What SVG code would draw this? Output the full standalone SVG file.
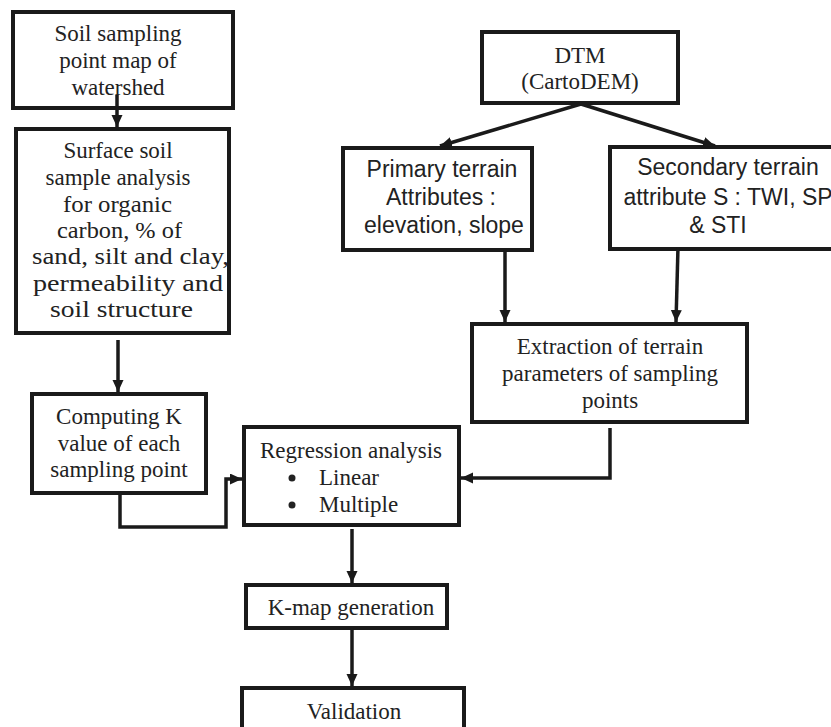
<svg xmlns="http://www.w3.org/2000/svg" width="831" height="727" viewBox="0 0 831 727">
<style>
.box{fill:#fff;stroke:#1a1a1a;stroke-width:4}
.t{font-family:"Liberation Serif","Times New Roman",serif;font-size:23px;fill:#222;text-anchor:middle}
.s{text-anchor:start}
.a{font-family:"Liberation Sans",Arial,sans-serif;font-size:23px;fill:#222;text-anchor:middle}
.c{fill:none;stroke:#1a1a1a;stroke-width:3.5}
</style>
<defs>
<marker id="ah" markerUnits="userSpaceOnUse" markerWidth="13" markerHeight="12" refX="12" refY="5.5" orient="auto">
<path d="M0,0 L12,5.5 L0,11 z" fill="#1a1a1a"/>
</marker>
</defs>
<rect width="831" height="727" fill="#fff"/>
<g id="n-soil-map">
<rect class="box" x="13" y="12" width="220" height="96"/>
<text class="t" x="118" y="41">Soil sampling</text>
<text class="t" x="118" y="68">point map of</text>
<text class="t" x="118" y="95">watershed</text>
</g>
<g id="n-surface">
<rect class="box" x="16" y="129" width="213" height="204"/>
<text class="t" x="118" y="158">Surface soil</text>
<text class="t" x="118" y="185">sample analysis</text>
<text class="t s" x="63" y="212" textLength="109" lengthAdjust="spacingAndGlyphs">for organic</text>
<text class="t s" x="57" y="238" textLength="125" lengthAdjust="spacingAndGlyphs">carbon, % of</text>
<text class="t s" x="32" y="264" textLength="197" lengthAdjust="spacingAndGlyphs">sand, silt and clay,</text>
<text class="t s" x="33" y="291" textLength="190" lengthAdjust="spacingAndGlyphs">permeability and</text>
<text class="t s" x="50" y="317" textLength="143" lengthAdjust="spacingAndGlyphs">soil structure</text>
</g>
<g id="n-computing">
<rect class="box" x="32" y="394" width="174" height="99"/>
<text class="t" x="119" y="424">Computing K</text>
<text class="t" x="119" y="451">value of each</text>
<text class="t" x="119" y="477">sampling point</text>
</g>
<g id="n-dtm">
<rect class="box" x="482" y="32" width="196" height="71"/>
<text class="t" x="580" y="63">DTM</text>
<text class="t" x="580" y="89">(CartoDEM)</text>
</g>
<g id="n-primary">
<rect class="box" x="343" y="148" width="189" height="102"/>
<text class="a" x="442" y="177">Primary terrain</text>
<text class="a" x="441" y="205">Attributes :</text>
<text class="a" x="444" y="233">elevation, slope</text>
</g>
<g id="n-secondary">
<rect class="box" x="610" y="147" width="240" height="102"/>
<text class="a" x="728" y="175">Secondary terrain</text>
<text class="a" x="728" y="205">attribute S : TWI, SP</text>
<text class="a" x="718" y="233">&amp; STI</text>
</g>
<g id="n-extraction">
<rect class="box" x="472" y="324" width="275" height="98"/>
<text class="t" x="610" y="354">Extraction of terrain</text>
<text class="t" x="610" y="381">parameters of sampling</text>
<text class="t" x="610" y="408">points</text>
</g>
<g id="n-regression">
<rect class="box" x="244" y="427" width="215" height="98"/>
<text class="t" x="351" y="458">Regression analysis</text>
<circle cx="292" cy="478" r="3.5" fill="#222"/>
<text class="t s" x="319" y="485">Linear</text>
<circle cx="292" cy="505" r="3.5" fill="#222"/>
<text class="t s" x="319" y="512">Multiple</text>
</g>
<g id="n-kmap">
<rect class="box" x="246" y="585" width="201" height="43"/>
<text class="t" x="351" y="615">K-map generation</text>
</g>
<g id="n-validation">
<rect class="box" x="242" y="688" width="222" height="60"/>
<text class="t" x="354" y="719">Validation</text>
</g>
<g id="connectors">
<line class="c" x1="117" y1="95" x2="117" y2="127" marker-end="url(#ah)"/>
<line class="c" x1="118" y1="340" x2="118" y2="392" marker-end="url(#ah)"/>
<line class="c" x1="581" y1="104" x2="440" y2="146" marker-end="url(#ah)"/>
<line class="c" x1="581" y1="104" x2="715" y2="146" marker-end="url(#ah)"/>
<line class="c" x1="505" y1="250" x2="505" y2="322" marker-end="url(#ah)"/>
<line class="c" x1="678" y1="247" x2="676" y2="322" marker-end="url(#ah)"/>
<polyline class="c" points="610,428 610,478 461,478" marker-end="url(#ah)"/>
<polyline class="c" points="120,493 120,527 226,527 226,479 242,479" marker-end="url(#ah)"/>
<line class="c" x1="352" y1="529" x2="352" y2="583" marker-end="url(#ah)"/>
<line class="c" x1="352" y1="628" x2="352" y2="686" marker-end="url(#ah)"/>
</g>
</svg>
